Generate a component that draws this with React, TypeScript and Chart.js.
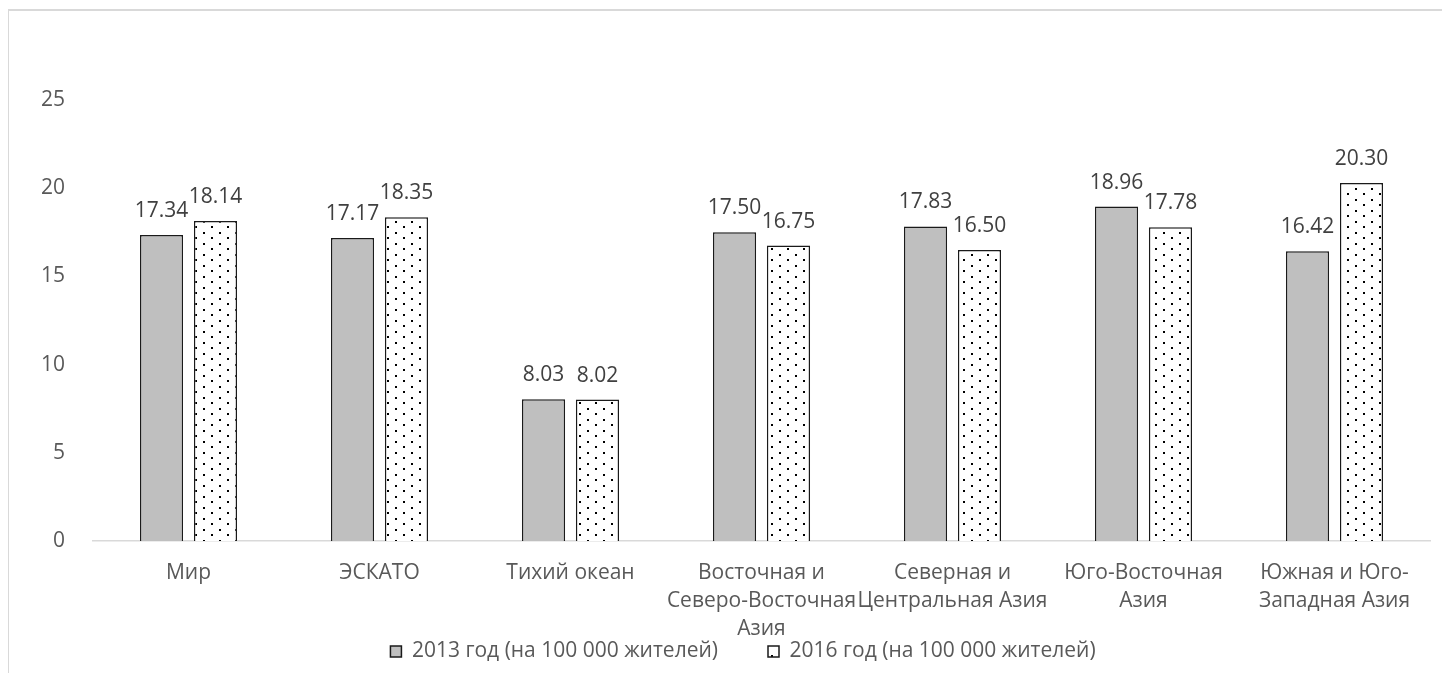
import React, { useEffect, useRef } from "react";
import { Chart, registerables } from "chart.js";

Chart.register(...registerables);

const categories: string[][] = [
  ["Мир"],
  ["ЭСКАТО"],
  ["Тихий океан"],
  ["Восточная и", "Северо-Восточная", "Азия"],
  ["Северная и", "Центральная Азия"],
  ["Юго-Восточная", "Азия"],
  ["Южная и Юго-", "Западная Азия"],
];
const series2013: number[] = [17.34, 17.17, 8.03, 17.5, 17.83, 18.96, 16.42];
const series2016: number[] = [18.14, 18.35, 8.02, 16.75, 16.5, 17.78, 20.3];
const seriesNames: string[] = [
  "2013 год (на 100 000 жителей)",
  "2016 год (на 100 000 жителей)",
];
const yTicks = { min: 0, max: 25, step: 5 };

const FONT = "'Open Sans', 'Noto Sans', sans-serif";
const FS = 21;

function makeDotPattern(ctx: CanvasRenderingContext2D): CanvasPattern | string {
  const c = document.createElement("canvas");
  c.width = 16;
  c.height = 11;
  const p = c.getContext("2d");
  if (!p) return "#ffffff";
  p.fillStyle = "#ffffff";
  p.fillRect(0, 0, 16, 11);
  p.fillStyle = "#000000";
  p.fillRect(2, 1, 2, 2);
  p.fillRect(10, 6, 2, 2);
  return ctx.createPattern(c, "repeat") || "#ffffff";
}

const valueLabels = {
  id: "valueLabels",
  afterDatasetsDraw(chart: any) {
    const ctx = chart.ctx as CanvasRenderingContext2D;
    ctx.save();
    ctx.font = `${FS}px ${FONT}`;
    ctx.fillStyle = "#404040";
    ctx.textAlign = "center";
    ctx.textBaseline = "middle";
    chart.data.datasets.forEach((ds: any, di: number) => {
      const meta = chart.getDatasetMeta(di);
      meta.data.forEach((bar: any, i: number) => {
        const v = ds.data[i] as number;
        ctx.fillText(v.toFixed(2), bar.x, bar.y - 24);
      });
    });
    ctx.restore();
  },
};

export default function App() {
  const ref = useRef<HTMLCanvasElement | null>(null);

  useEffect(() => {
    document.documentElement.style.overflow = "hidden";
    const canvas = ref.current;
    if (!canvas) return;
    const ctx = canvas.getContext("2d");
    if (!ctx) return;
    const pattern = makeDotPattern(ctx);

    const chart = new Chart(ctx, {
      type: "bar",
      data: {
        labels: categories,
        datasets: [
          {
            label: seriesNames[0],
            data: series2013,
            backgroundColor: "#bfbfbf",
            borderColor: "#1a1a1a",
            borderWidth: 1.5,
            categoryPercentage: 0.565,
            barPercentage: 0.8,
          },
          {
            label: seriesNames[1],
            data: series2016,
            backgroundColor: pattern as any,
            borderColor: "#1a1a1a",
            borderWidth: 1.5,
            categoryPercentage: 0.565,
            barPercentage: 0.8,
          },
        ],
      },
      options: {
        animation: false,
        responsive: false,
        maintainAspectRatio: false,
        layout: { padding: { left: 47, right: 20, top: 89, bottom: 1 } },
        plugins: {
          tooltip: { enabled: false },
          legend: {
            position: "bottom",
            labels: {
              boxWidth: 11,
              boxHeight: 11,
              padding: 50,
              color: "#595959",
              font: { family: FONT, size: FS },
            },
          },
        },
        scales: {
          x: {
            grid: { display: false, drawTicks: false },
            border: { display: true, color: "#d9d9d9", width: 1.5 },
            ticks: {
              color: "#595959",
              padding: 18,
              maxRotation: 0,
              autoSkip: false,
              font: { family: FONT, size: FS, lineHeight: 28 / FS },
            },
            afterFit: (scale: any) => {
              scale.height = 50;
              scale._computeLabelArea = () => undefined;
            },
          },
          y: {
            min: yTicks.min,
            max: yTicks.max,
            grid: { display: false, drawTicks: false },
            border: { display: false },
            ticks: {
              stepSize: yTicks.step,
              color: "#595959",
              padding: 28,
              font: { family: FONT, size: FS },
            },
            afterFit: (scale: any) => {
              scale.width = 37;
              scale._computeLabelArea = () => undefined;
            },
          },
        },
      },
      plugins: [valueLabels],
    });
    return () => chart.destroy();
  }, []);

  return (
    <div
      style={{
        marginLeft: -1,
        marginTop: 1,
        width: 1441,
        height: 662,
        borderTop: "2px solid #d9d9d9",
        borderLeft: "2px solid #d9d9d9",
      }}
    >
      <canvas ref={ref} width={1441} height={662} style={{ display: "block" }} />
    </div>
  );
}
